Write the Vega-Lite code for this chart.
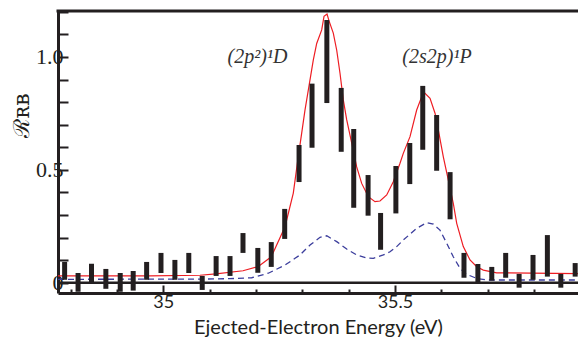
{
  "$schema": "https://vega.github.io/schema/vega-lite/v6.json",
  "width": 520,
  "height": 282,
  "autosize": {"type": "none"},
  "padding": {"left": 58, "top": 11, "right": 0, "bottom": 46},
  "background": "white",
  "config": {"view": {"stroke": null}},
  "datasets": {
    "bars": [
      {"E": 34.787, "v": 0.092, "lo": 0.013},
      {"E": 34.816, "v": 0.043, "lo": -0.040},
      {"E": 34.845, "v": 0.084, "lo": 0.003},
      {"E": 34.876, "v": 0.061, "lo": -0.027},
      {"E": 34.907, "v": 0.043, "lo": -0.040},
      {"E": 34.935, "v": 0.052, "lo": -0.035},
      {"E": 34.964, "v": 0.092, "lo": 0.013},
      {"E": 34.995, "v": 0.132, "lo": 0.043},
      {"E": 35.025, "v": 0.101, "lo": 0.013},
      {"E": 35.055, "v": 0.132, "lo": 0.043},
      {"E": 35.084, "v": 0.030, "lo": -0.032},
      {"E": 35.114, "v": 0.118, "lo": 0.030},
      {"E": 35.144, "v": 0.118, "lo": 0.030},
      {"E": 35.172, "v": 0.220, "lo": 0.132},
      {"E": 35.204, "v": 0.154, "lo": 0.044},
      {"E": 35.233, "v": 0.180, "lo": 0.070},
      {"E": 35.262, "v": 0.327, "lo": 0.194},
      {"E": 35.293, "v": 0.610, "lo": 0.446},
      {"E": 35.321, "v": 0.882, "lo": 0.598},
      {"E": 35.353, "v": 1.164, "lo": 0.796},
      {"E": 35.384, "v": 0.863, "lo": 0.580},
      {"E": 35.411, "v": 0.681, "lo": 0.332},
      {"E": 35.442, "v": 0.477, "lo": 0.297},
      {"E": 35.469, "v": 0.309, "lo": 0.146},
      {"E": 35.502, "v": 0.517, "lo": 0.307},
      {"E": 35.532, "v": 0.619, "lo": 0.437},
      {"E": 35.560, "v": 0.872, "lo": 0.589},
      {"E": 35.590, "v": 0.743, "lo": 0.496},
      {"E": 35.619, "v": 0.490, "lo": 0.281},
      {"E": 35.649, "v": 0.132, "lo": 0.022},
      {"E": 35.679, "v": 0.083, "lo": 0.000},
      {"E": 35.709, "v": 0.070, "lo": 0.009},
      {"E": 35.739, "v": 0.132, "lo": 0.022},
      {"E": 35.768, "v": 0.039, "lo": -0.022},
      {"E": 35.798, "v": 0.123, "lo": 0.013},
      {"E": 35.829, "v": 0.211, "lo": 0.027},
      {"E": 35.858, "v": 0.039, "lo": -0.022},
      {"E": 35.889, "v": 0.087, "lo": 0.027}
    ],
    "red": [
      {"E": 34.7727, "v": 0.030},
      {"E": 34.9712, "v": 0.030},
      {"E": 35.0791, "v": 0.033},
      {"E": 35.1137, "v": 0.039},
      {"E": 35.1720, "v": 0.053},
      {"E": 35.2044, "v": 0.071},
      {"E": 35.2331, "v": 0.115},
      {"E": 35.2627, "v": 0.248},
      {"E": 35.2806, "v": 0.397},
      {"E": 35.2914, "v": 0.560},
      {"E": 35.2987, "v": 0.663},
      {"E": 35.3058, "v": 0.765},
      {"E": 35.3238, "v": 0.987},
      {"E": 35.3311, "v": 1.060},
      {"E": 35.3419, "v": 1.120},
      {"E": 35.3469, "v": 1.180},
      {"E": 35.3534, "v": 1.190},
      {"E": 35.3577, "v": 1.160},
      {"E": 35.3669, "v": 1.106},
      {"E": 35.3743, "v": 1.030},
      {"E": 35.3814, "v": 0.928},
      {"E": 35.3885, "v": 0.810},
      {"E": 35.3959, "v": 0.721},
      {"E": 35.4066, "v": 0.619},
      {"E": 35.4174, "v": 0.513},
      {"E": 35.4282, "v": 0.440},
      {"E": 35.4425, "v": 0.381},
      {"E": 35.4569, "v": 0.359},
      {"E": 35.4677, "v": 0.362},
      {"E": 35.4822, "v": 0.389},
      {"E": 35.4964, "v": 0.447},
      {"E": 35.5109, "v": 0.529},
      {"E": 35.5180, "v": 0.573},
      {"E": 35.5325, "v": 0.647},
      {"E": 35.5469, "v": 0.765},
      {"E": 35.5577, "v": 0.824},
      {"E": 35.5649, "v": 0.839},
      {"E": 35.5757, "v": 0.817},
      {"E": 35.5865, "v": 0.751},
      {"E": 35.5936, "v": 0.677},
      {"E": 35.6044, "v": 0.558},
      {"E": 35.6152, "v": 0.455},
      {"E": 35.6259, "v": 0.352},
      {"E": 35.6333, "v": 0.263},
      {"E": 35.6475, "v": 0.160},
      {"E": 35.6620, "v": 0.101},
      {"E": 35.6765, "v": 0.071},
      {"E": 35.6907, "v": 0.056},
      {"E": 35.7196, "v": 0.044},
      {"E": 35.8951, "v": 0.040}
    ],
    "blue": [
      {"E": 34.7727, "v": 0.015},
      {"E": 35.0791, "v": 0.016},
      {"E": 35.1440, "v": 0.018},
      {"E": 35.1908, "v": 0.022},
      {"E": 35.2266, "v": 0.042},
      {"E": 35.2627, "v": 0.078},
      {"E": 35.2843, "v": 0.108},
      {"E": 35.2951, "v": 0.123},
      {"E": 35.3167, "v": 0.167},
      {"E": 35.3383, "v": 0.201},
      {"E": 35.3527, "v": 0.208},
      {"E": 35.3743, "v": 0.182},
      {"E": 35.3959, "v": 0.149},
      {"E": 35.4174, "v": 0.123},
      {"E": 35.4390, "v": 0.109},
      {"E": 35.4533, "v": 0.108},
      {"E": 35.4749, "v": 0.123},
      {"E": 35.4893, "v": 0.137},
      {"E": 35.5038, "v": 0.160},
      {"E": 35.5180, "v": 0.189},
      {"E": 35.5469, "v": 0.241},
      {"E": 35.5685, "v": 0.266},
      {"E": 35.5828, "v": 0.260},
      {"E": 35.5972, "v": 0.233},
      {"E": 35.6117, "v": 0.175},
      {"E": 35.6259, "v": 0.115},
      {"E": 35.6404, "v": 0.064},
      {"E": 35.6549, "v": 0.037},
      {"E": 35.6765, "v": 0.019},
      {"E": 35.6980, "v": 0.012},
      {"E": 35.8951, "v": 0.012}
    ],
    "labels": [
      {"E": 35.2033, "v": 1.0, "t": "(2p²)¹D"},
      {"E": 35.5908, "v": 1.0, "t": "(2s2p)¹P"}
    ]
  },
  "encoding": {
    "x": {
      "field": "E",
      "type": "quantitative",
      "scale": {"domain": [34.7727, 35.8951], "nice": false, "zero": false},
      "axis": {
        "title": "Ejected-Electron Energy (eV)",
        "values": [34.8, 34.9, 35, 35.1, 35.2, 35.3, 35.4, 35.5, 35.6, 35.7, 35.8],
        "labelExpr": "datum.value == 35 ? '35' : datum.value == 35.5 ? '35.5' : ''",
        "tickSize": {"condition": {"test": "datum.value == 35 || datum.value == 35.5", "value": -8}, "value": -4},
        "tickWidth": 2,
        "tickColor": "#231f20",
        "domainColor": "#231f20",
        "domainWidth": 3,
        "grid": false,
        "labelFont": "Lato",
        "labelFontSize": 18,
        "labelColor": "#231f20",
        "labelPadding": 8,
        "labelFlush": false,
        "labelOverlap": false,
        "titleFont": "Lato",
        "titleFontSize": 20,
        "titleFontWeight": "normal",
        "titleColor": "#231f20",
        "titleBaseline": "alphabetic",
        "titleY": 40
      }
    },
    "y": {
      "field": "v",
      "type": "quantitative",
      "scale": {"domain": [-0.0456, 1.2038], "nice": false, "zero": false},
      "axis": {
        "title": "ℛʀʙ",
        "values": [0, 0.1, 0.2, 0.3, 0.4, 0.5, 0.6, 0.7, 0.8, 0.9, 1, 1.1, 1.2],
        "labelExpr": "datum.value == 0 ? '0' : datum.value == 0.5 ? '0.5' : datum.value == 1 ? '1.0' : ''",
        "tickSize": -10,
        "tickWidth": 2,
        "tickColor": "#231f20",
        "domainColor": "#231f20",
        "domainWidth": 3,
        "grid": false,
        "labelFont": "Liberation Serif",
        "labelFontSize": 22,
        "labelColor": "#231f20",
        "labelPadding": 5,
        "labelFlush": false,
        "labelOverlap": false,
        "titleFont": "DejaVu Serif",
        "titleFontSize": 22,
        "titleFontWeight": "normal",
        "titleColor": "#231f20",
        "titleAngle": -90,
        "titleBaseline": "alphabetic",
        "titleX": -30,
        "titleY": 104
      }
    }
  },
  "layer": [
    {
      "data": {"name": "red"},
      "mark": {"type": "line", "color": "#ee1d23", "strokeWidth": 1.2, "clip": true}
    },
    {
      "data": {"name": "blue"},
      "mark": {"type": "line", "color": "#3b3d9c", "strokeWidth": 1.3, "strokeDash": [6, 4], "clip": true}
    },
    {
      "data": {"name": "bars"},
      "mark": {"type": "rule", "color": "#231f20", "strokeWidth": 5, "clip": true},
      "encoding": {
        "y2": {"field": "lo"}
      }
    },
    {
      "data": {"values": [{"v": 0}]},
      "mark": {"type": "rule", "color": "#231f20", "strokeWidth": 2.5},
      "encoding": {
        "x": {"value": 0},
        "x2": {"value": 520}
      }
    },
    {
      "data": {"values": [{"v": 1.2038}]},
      "mark": {"type": "rule", "color": "#231f20", "strokeWidth": 3},
      "encoding": {
        "x": {"value": -1.5},
        "x2": {"value": 520}
      }
    },
    {
      "data": {"name": "labels"},
      "mark": {"type": "text", "font": "Liberation Serif", "fontStyle": "italic", "fontSize": 20, "color": "#333333", "baseline": "middle", "align": "center"},
      "encoding": {
        "text": {"field": "t"}
      }
    }
  ]
}
